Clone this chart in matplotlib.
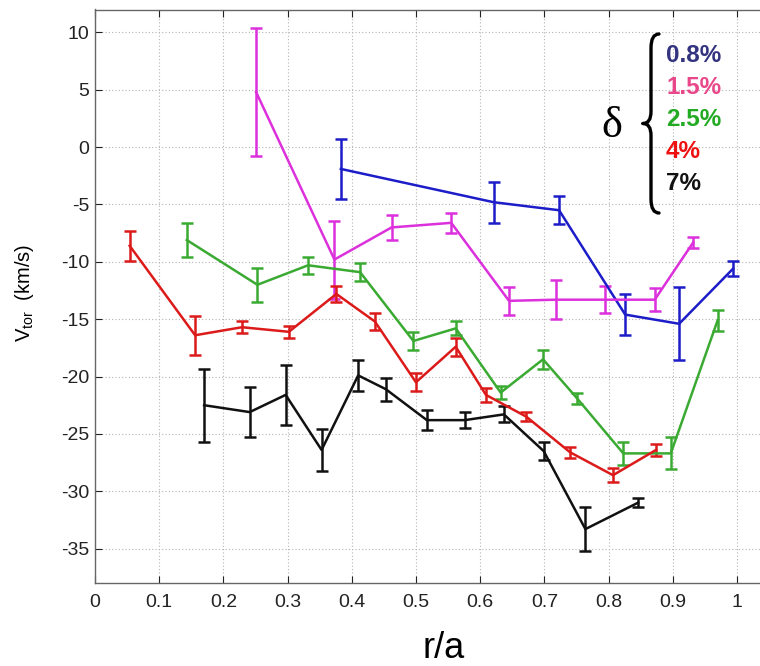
import matplotlib
matplotlib.use('Agg')
import matplotlib.pyplot as plt
from matplotlib.path import Path
from matplotlib.patches import PathPatch

plt.rcParams['font.family'] = ['Liberation Sans', 'DejaVu Sans']
plt.rcParams['mathtext.fontset'] = 'custom'
plt.rcParams['mathtext.rm'] = 'Liberation Sans'
plt.rcParams['axes.unicode_minus'] = False

# delta = 0.8 %
r_08 = [0.383, 0.621, 0.723, 0.826, 0.910, 0.994]
v_08 = [-1.9, -4.8, -5.5, -14.6, -15.4, -10.6]
e_08 = [2.6, 1.8, 1.2, 1.8, 3.2, 0.65]

# delta = 1.5 %
r_15 = [0.251, 0.373, 0.462, 0.555, 0.645, 0.718, 0.795, 0.872, 0.932]
v_15 = [4.8, -9.8, -7.0, -6.6, -13.4, -13.3, -13.3, -13.3, -8.3]
e_15 = [5.6, 3.4, 1.1, 0.9, 1.2, 1.7, 1.2, 1.0, 0.45]

# delta = 2.5 %
r_25 = [0.143, 0.253, 0.332, 0.413, 0.496, 0.562, 0.632, 0.698, 0.751, 0.823, 0.897, 0.970]
v_25 = [-8.1, -12.0, -10.3, -10.9, -16.9, -15.8, -21.4, -18.5, -21.9, -26.7, -26.7, -15.1]
e_25 = [1.5, 1.5, 0.75, 0.8, 0.8, 0.6, 0.6, 0.8, 0.5, 1.0, 1.4, 0.9]

# delta = 4 %
r_4 = [0.054, 0.156, 0.229, 0.302, 0.376, 0.436, 0.500, 0.562, 0.609, 0.672, 0.740, 0.807, 0.874]
v_4 = [-8.6, -16.4, -15.7, -16.1, -12.8, -15.2, -20.5, -17.4, -21.6, -23.5, -26.6, -28.6, -26.4]
e_4 = [1.3, 1.7, 0.5, 0.5, 0.7, 0.7, 0.8, 0.8, 0.6, 0.4, 0.5, 0.6, 0.5]

# delta = 7 %
r_7 = [0.170, 0.241, 0.297, 0.353, 0.410, 0.453, 0.517, 0.576, 0.637, 0.699, 0.764, 0.846]
v_7 = [-22.5, -23.1, -21.6, -26.4, -19.9, -21.1, -23.8, -23.8, -23.3, -26.5, -33.3, -31.0]
e_7 = [3.2, 2.2, 2.6, 1.8, 1.35, 1.0, 0.9, 0.7, 0.7, 0.8, 1.9, 0.4]

labels = ['0.8%', '1.5%', '2.5%', '4%', '7%']
line_colors = ['#1c1cc8', '#dc30dc', '#3aaa32', '#dc1a1a', '#111111']
text_colors = ['#33337f', '#e8478a', '#22aa22', '#ee1111', '#111111']

fig = plt.figure(figsize=(7.6, 6.66), dpi=100)
ax = fig.add_axes([95 / 760, 83 / 666, 665 / 760, 573.5 / 666])

series = [(r_08, v_08, e_08), (r_15, v_15, e_15), (r_25, v_25, e_25),
          (r_4, v_4, e_4), (r_7, v_7, e_7)]
for (r, v, e), c in zip(series, line_colors):
    ax.errorbar(r, v, yerr=e, color=c, lw=1.8, elinewidth=1.8,
                capsize=4.5, capthick=1.8, zorder=3)

ax.set_xlim(0, 1.036)
ax.set_ylim(-38, 12)
ax.set_xticks([0, 0.1, 0.2, 0.3, 0.4, 0.5, 0.6, 0.7, 0.8, 0.9, 1])
ax.set_xticklabels(['0', '0.1', '0.2', '0.3', '0.4', '0.5', '0.6', '0.7', '0.8', '0.9', '1'])
ax.set_yticks([10, 5, 0, -5, -10, -15, -20, -25, -30, -35])
ax.tick_params(direction='in', top=True, right=False, labelsize=14,
               length=5, width=0.8, colors='#222222')
ax.tick_params(axis='x', pad=8)
ax.tick_params(axis='y', pad=4)
ax.grid(True, linestyle=(0, (1, 2)), color='#b4b4b4', lw=0.8)
ax.spines['right'].set_visible(False)
for s in ['left', 'bottom', 'top']:
    ax.spines[s].set_color('#666666')
    ax.spines[s].set_linewidth(1.0)

fig.text(25 / 760, 1 - 293 / 666, r'V$_{\rm tor}$  (km/s)', rotation=90,
         ha='center', va='center', fontsize=14.5)
fig.text(444 / 760, 1 - 648 / 666, 'r/a', ha='center', va='center', fontsize=26)

# legend: delta with a curly brace
fig.text(612 / 760, 1 - 126 / 666, 'δ', fontsize=32, ha='center',
         va='center', family='Liberation Serif')


def brace(x, y0, y1, w):
    ym = (y0 + y1) / 2
    verts = [(x + w, y0), (x, y0), (x, y0 + 14), (x, ym - 12),
             (x, ym), (x - w, ym), (x - w, ym),
             (x - w, ym), (x, ym), (x, ym + 12),
             (x, y1 - 14), (x, y1), (x + w, y1)]
    verts = [(vx / 760, 1 - vy / 666) for vx, vy in verts]
    codes = [Path.MOVETO, Path.CURVE3, Path.CURVE3, Path.LINETO,
             Path.CURVE3, Path.CURVE3, Path.LINETO,
             Path.MOVETO, Path.CURVE3, Path.CURVE3,
             Path.LINETO, Path.CURVE3, Path.CURVE3]
    return PathPatch(Path(verts, codes), transform=fig.transFigure,
                     fill=False, lw=2.4, color='black', capstyle='round')


fig.patches.append(brace(651, 34, 213, 8))

row_y = [56, 88, 120, 152, 184]
for lab, c, yy in zip(labels, text_colors, row_y):
    fig.text(666 / 760, 1 - yy / 666, lab, color=c, fontsize=17.5,
             fontweight='bold', ha='left', va='center')

fig.savefig('out.png', dpi=100, facecolor='white')
